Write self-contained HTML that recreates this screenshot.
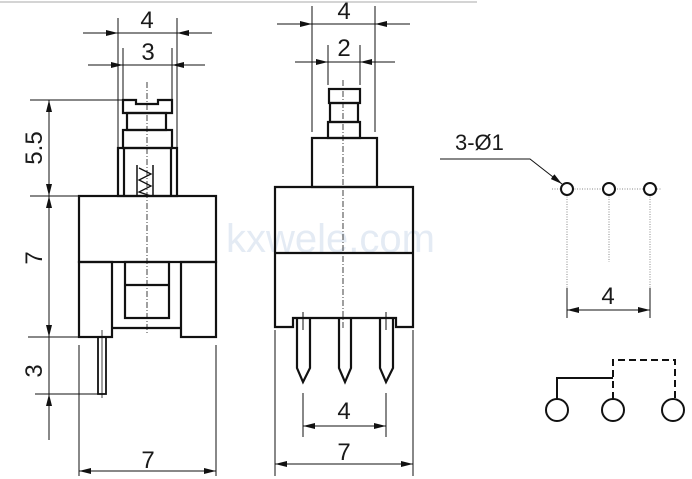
<!DOCTYPE html>
<html><head><meta charset="utf-8"><style>
html,body{margin:0;padding:0;background:#fff}
svg{display:block}
text{font-family:"Liberation Sans",sans-serif;fill:#1a1a1a}
</style></head><body>
<svg width="692" height="479" viewBox="0 0 692 479" xmlns="http://www.w3.org/2000/svg">
<defs>
<marker id="a" viewBox="0 0 12 6" refX="12" refY="3" markerWidth="12" markerHeight="6" markerUnits="userSpaceOnUse" orient="auto"><path d="M0,0L12,3L0,6z" fill="#111"/></marker>
</defs>
<line x1="0" y1="2" x2="477" y2="2" stroke="#d4d4d4" stroke-width="2"/>
<text x="226" y="252" font-size="40" style="fill:#e4ebf4">kxwele.com</text>

<g stroke="#111" stroke-width="1" fill="none">
<line x1="118" y1="18" x2="118" y2="148"/><line x1="177" y1="18" x2="177" y2="148"/>
<line x1="83" y1="33" x2="118" y2="33" marker-end="url(#a)"/><line x1="212" y1="33" x2="177" y2="33" marker-end="url(#a)"/><line x1="118" y1="33" x2="177" y2="33"/>
<line x1="123" y1="48" x2="123" y2="100"/><line x1="172" y1="48" x2="172" y2="100"/>
<line x1="88" y1="65" x2="123" y2="65" marker-end="url(#a)"/><line x1="205" y1="65" x2="172" y2="65" marker-end="url(#a)"/><line x1="123" y1="65" x2="172" y2="65"/>
<line x1="30" y1="100" x2="123" y2="100"/><line x1="30" y1="196" x2="79" y2="196"/>
<line x1="28" y1="337" x2="99" y2="337"/><line x1="35" y1="394" x2="99" y2="394"/>
<line x1="49" y1="148" x2="49" y2="100" marker-end="url(#a)"/><line x1="49" y1="148" x2="49" y2="196" marker-end="url(#a)"/>
<line x1="49" y1="266" x2="49" y2="196" marker-end="url(#a)"/><line x1="49" y1="266" x2="49" y2="337" marker-end="url(#a)"/>
<line x1="49" y1="337" x2="49" y2="394"/><line x1="49" y1="440" x2="49" y2="394" marker-end="url(#a)"/>
<line x1="79" y1="345" x2="79" y2="476"/><line x1="216" y1="345" x2="216" y2="476"/>
<line x1="147" y1="471" x2="79" y2="471" marker-end="url(#a)"/><line x1="147" y1="471" x2="216" y2="471" marker-end="url(#a)"/>
<line x1="147" y1="82" x2="147" y2="335" stroke-dasharray="6,2,1,2" stroke-width="0.8"/>
</g>
<g stroke="#111" stroke-width="2.2" fill="none">
<path d="M123,113V100H136V104H158V100H172V113Z"/>
<rect x="127" y="113" width="39" height="17"/>
<rect x="123" y="130" width="49" height="18"/>
<rect x="118" y="148" width="59" height="48"/>
<line x1="124" y1="148" x2="124" y2="196"/><line x1="171" y1="148" x2="171" y2="196"/>
<path d="M137,196V165M153,196V165" stroke-width="1.5"/>
<path d="M139,168L151,174L139,180L151,186L139,192L151,196" stroke-width="1.3"/>
<rect x="79" y="196" width="137" height="66"/>
<rect x="79" y="262" width="33" height="75"/>
<rect x="181" y="262" width="35" height="75"/>
<rect x="125" y="262" width="44" height="56"/>
<line x1="125" y1="285" x2="169" y2="285"/>
<line x1="112" y1="328" x2="181" y2="328"/>
<rect x="98" y="337" width="8" height="57" stroke-width="1.8"/>
</g>
<line x1="102" y1="330" x2="102" y2="398" stroke="#111" stroke-width="0.8"/>
<text x="147" y="28" font-size="24" text-anchor="middle">4</text>
<text x="148" y="60" font-size="24" text-anchor="middle">3</text>
<text font-size="24" text-anchor="middle" transform="translate(42,148) rotate(-90)">5.5</text>
<text font-size="24" text-anchor="middle" transform="translate(42,258) rotate(-90)">7</text>
<text font-size="24" text-anchor="middle" transform="translate(42,371) rotate(-90)">3</text>
<text x="148" y="468" font-size="24" text-anchor="middle">7</text>

<g stroke="#111" stroke-width="1" fill="none">
<line x1="312" y1="6" x2="312" y2="132"/><line x1="375" y1="6" x2="375" y2="132"/>
<line x1="277" y1="24" x2="312" y2="24" marker-end="url(#a)"/><line x1="410" y1="24" x2="375" y2="24" marker-end="url(#a)"/><line x1="312" y1="24" x2="375" y2="24"/>
<line x1="328" y1="45" x2="328" y2="85"/><line x1="360" y1="45" x2="360" y2="85"/>
<line x1="295" y1="62" x2="312" y2="62"/><line x1="312" y1="62" x2="328" y2="62" marker-end="url(#a)"/><line x1="395" y1="62" x2="375" y2="62"/><line x1="375" y1="62" x2="360" y2="62" marker-end="url(#a)"/><line x1="328" y1="62" x2="360" y2="62"/>
<line x1="303" y1="393" x2="303" y2="437"/><line x1="386" y1="393" x2="386" y2="437"/>
<line x1="344" y1="426" x2="303" y2="426" marker-end="url(#a)"/><line x1="344" y1="426" x2="386" y2="426" marker-end="url(#a)"/>
<line x1="275" y1="330" x2="275" y2="476"/><line x1="413" y1="330" x2="413" y2="476"/>
<line x1="344" y1="464" x2="275" y2="464" marker-end="url(#a)"/><line x1="344" y1="464" x2="413" y2="464" marker-end="url(#a)"/>
<line x1="343" y1="80" x2="343" y2="330" stroke-dasharray="6,2,1,2" stroke-width="0.8"/>
<line x1="303" y1="312" x2="303" y2="330"/><line x1="386" y1="312" x2="386" y2="330"/>
</g>
<g stroke="#111" stroke-width="2.2" fill="none">
<rect x="329" y="89" width="31" height="14"/>
<rect x="330" y="103" width="28" height="19"/>
<rect x="328" y="122" width="32" height="16"/>
<rect x="312" y="138" width="65" height="49"/>
<path d="M275,187H413V327H396V318H293V327H275Z"/>
<line x1="275" y1="253" x2="413" y2="253"/>
<path d="M297,318V368L303,382L310,368V318"/>
<path d="M339,318V368L345,382L351,368V318"/>
<path d="M380,318V368L386,382L393,368V318"/>
</g>
<text x="344" y="19" font-size="24" text-anchor="middle">4</text>
<text x="344" y="56" font-size="24" text-anchor="middle">2</text>
<text x="344" y="419" font-size="24" text-anchor="middle">4</text>
<text x="344" y="460" font-size="24" text-anchor="middle">7</text>

<text x="455" y="150" font-size="22">3-Ø1</text>
<g stroke="#111" stroke-width="1" fill="none">
<path d="M440,159H530L562,184" marker-end="url(#a)"/>
<g stroke="#888" stroke-dasharray="1,1.5"><line x1="552" y1="189" x2="662" y2="189"/><line x1="567" y1="189" x2="567" y2="316"/><line x1="609" y1="189" x2="609" y2="262"/><line x1="650" y1="189" x2="650" y2="316"/></g>
<line x1="567" y1="288" x2="567" y2="318"/><line x1="650" y1="288" x2="650" y2="318"/>
<line x1="608" y1="310" x2="567" y2="310" marker-end="url(#a)"/><line x1="608" y1="310" x2="650" y2="310" marker-end="url(#a)"/>
</g>
<g stroke="#111" stroke-width="2" fill="#fff">
<circle cx="567" cy="189" r="6"/><circle cx="609" cy="189" r="6"/><circle cx="650" cy="189" r="6"/>
<circle cx="557" cy="410" r="11"/><circle cx="613" cy="410" r="11"/><circle cx="673" cy="410" r="11"/>
</g>
<g stroke="#111" stroke-width="2" fill="none">
<path d="M557,399V378H613"/>
<path d="M613,399V360H675V399" stroke-dasharray="7,4"/>
</g>
<text x="608" y="304" font-size="24" text-anchor="middle">4</text>
</svg>
</body></html>
